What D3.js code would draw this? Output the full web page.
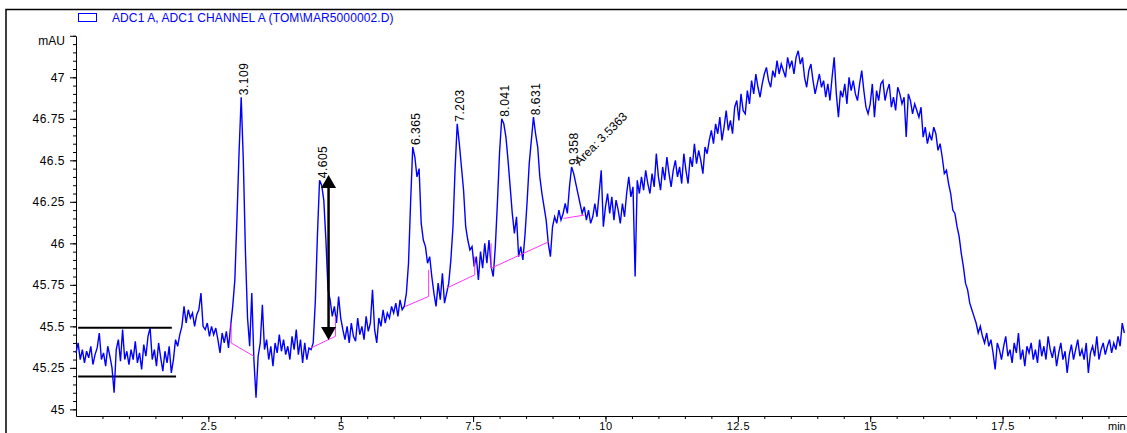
<!DOCTYPE html>
<html>
<head>
<meta charset="utf-8">
<script src="https://cdn.jsdelivr.net/npm/d3@7"></script>
<style>
	body { margin: 0; background: #fff; }
	svg { display: block; font-family: "Liberation Sans", Arial, sans-serif; }
</style>
</head>
<body>
<div id="chart"></div>
<script>
(function () {
	"use strict";

	// trace sampling, minutes
	var step = 0.04;

	// ADC1 A signal in mAU, one row per minute (25 samples each)
	var signal = [
		[45.34, 45.40, 45.30, 45.36, 45.28, 45.35, 45.31, 45.38, 45.27, 45.33, 45.37, 45.46, 45.30, 45.34, 45.26, 45.38, 45.32, 45.25, 45.10, 45.36, 45.42, 45.29, 45.48, 45.30, 45.35],
		[45.27, 45.36, 45.30, 45.41, 45.28, 45.34, 45.24, 45.39, 45.32, 45.44, 45.49, 45.30, 45.36, 45.26, 45.40, 45.31, 45.23, 45.35, 45.28, 45.38, 45.22, 45.30, 45.42, 45.38, 45.45],
		[45.50, 45.62, 45.52, 45.60, 45.55, 45.58, 45.50, 45.57, 45.60, 45.70, 45.50, 45.48, 45.52, 45.44, 45.50, 45.45, 45.49, 45.42, 45.34, 45.46, 45.40, 45.47, 45.37, 45.50, 45.62],
		[45.78, 46.15, 46.55, 46.88, 46.50, 45.95, 45.55, 45.38, 45.70, 45.30, 45.07, 45.32, 45.40, 45.63, 45.36, 45.42, 45.30, 45.38, 45.26, 45.40, 45.34, 45.45, 45.35, 45.42, 45.33],
		[45.38, 45.30, 45.44, 45.36, 45.48, 45.33, 45.42, 45.28, 45.40, 45.30, 45.37, 45.36, 45.40, 45.65, 46.05, 46.38, 46.35, 46.26, 46.02, 45.72, 45.66, 45.56, 45.62, 45.52, 45.68],
		[45.55, 45.48, 45.42, 45.50, 45.40, 45.52, 45.44, 45.41, 45.55, 45.45, 45.50, 45.42, 45.56, 45.47, 45.52, 45.72, 45.48, 45.40, 45.55, 45.50, 45.60, 45.52, 45.58, 45.55, 45.62],
		[45.58, 45.64, 45.56, 45.66, 45.60, 45.62, 45.70, 45.88, 46.25, 46.58, 46.52, 46.40, 46.45, 46.12, 46.02, 45.98, 45.88, 45.92, 45.80, 45.70, 45.62, 45.76, 45.66, 45.82, 45.64],
		[45.70, 45.76, 45.90, 46.10, 46.45, 46.72, 46.60, 46.46, 46.32, 46.10, 46.02, 45.96, 45.98, 45.86, 45.92, 45.78, 45.95, 45.85, 46.00, 45.88, 46.02, 45.86, 45.80, 45.98, 46.25],
		[46.55, 46.75, 46.72, 46.64, 46.50, 46.34, 46.18, 46.06, 46.16, 45.92, 45.98, 45.90, 46.05, 46.25, 46.48, 46.62, 46.76, 46.66, 46.58, 46.40, 46.30, 46.22, 46.14, 46.00, 45.92],
		[46.10, 46.16, 46.12, 46.20, 46.14, 46.18, 46.24, 46.18, 46.34, 46.46, 46.42, 46.36, 46.30, 46.24, 46.18, 46.22, 46.14, 46.20, 46.12, 46.16, 46.24, 46.16, 46.30, 46.44, 46.10],
		[46.22, 46.30, 46.18, 46.28, 46.14, 46.26, 46.20, 46.12, 46.24, 46.16, 46.30, 46.40, 46.28, 46.34, 45.80, 46.38, 46.30, 46.40, 46.32, 46.44, 46.36, 46.30, 46.42, 46.34, 46.54],
		[46.40, 46.32, 46.46, 46.38, 46.52, 46.42, 46.34, 46.44, 46.50, 46.40, 46.46, 46.36, 46.54, 46.44, 46.36, 46.52, 46.46, 46.60, 46.48, 46.56, 46.50, 46.42, 46.58, 46.54, 46.62],
		[46.68, 46.60, 46.72, 46.66, 46.76, 46.62, 46.70, 46.80, 46.68, 46.74, 46.66, 46.82, 46.86, 46.74, 46.90, 46.80, 46.78, 46.92, 46.84, 46.98, 46.90, 47.02, 46.94, 46.88, 46.96],
		[47.02, 47.06, 46.98, 46.94, 47.04, 47.00, 47.10, 47.02, 47.08, 47.04, 47.00, 47.12, 47.06, 47.10, 47.02, 47.12, 47.16, 47.08, 47.12, 47.00, 46.94, 47.04, 47.08, 46.98, 46.90],
		[46.96, 47.02, 46.94, 46.98, 46.88, 46.96, 46.86, 47.00, 47.12, 46.90, 46.76, 46.92, 46.88, 46.96, 46.84, 47.00, 46.92, 46.98, 46.90, 46.86, 46.96, 47.04, 46.92, 46.82, 46.78],
		[46.84, 46.96, 46.76, 46.92, 46.86, 46.96, 46.98, 46.86, 46.92, 46.96, 46.82, 46.88, 46.80, 46.94, 46.90, 46.84, 46.88, 46.64, 46.90, 46.86, 46.78, 46.84, 46.80, 46.76, 46.82],
		[46.64, 46.70, 46.60, 46.66, 46.62, 46.70, 46.66, 46.56, 46.60, 46.52, 46.42, 46.44, 46.36, 46.30, 46.20, 46.18, 46.10, 46.04, 45.94, 45.86, 45.76, 45.72, 45.64, 45.60, 45.56],
		[45.52, 45.46, 45.50, 45.44, 45.40, 45.46, 45.38, 45.42, 45.34, 45.24, 45.40, 45.36, 45.30, 45.38, 45.44, 45.32, 45.36, 45.28, 45.40, 45.34, 45.46, 45.30, 45.36, 45.26, 45.38],
		[45.34, 45.40, 45.30, 45.36, 45.28, 45.42, 45.32, 45.38, 45.30, 45.44, 45.36, 45.31, 45.38, 45.26, 45.34, 45.40, 45.30, 45.35, 45.22, 45.33, 45.39, 45.30, 45.36, 45.42, 45.32],
		[45.36, 45.30, 45.40, 45.22, 45.34, 45.38, 45.32, 45.44, 45.30, 45.36, 45.40, 45.33, 45.38, 45.42, 45.34, 45.40, 45.36, 45.44, 45.38, 45.52, 45.46]
	];

	var xMajorTicks = [2.5, 5, 7.5, 10, 12.5, 15, 17.5];
	var xMinorTicks = d3.range(0.5, 19.9, 0.5);
	var yMajorTicks = [45, 45.25, 45.5, 45.75, 46, 46.25, 46.5, 46.75, 47, 47.25];
	var yMinorTicks = d3.range(45, 47.26, 0.05);

	var legendText = 'ADC1 A, ADC1 CHANNEL A (TOM\\MAR5000002.D)';

	// retention times of the labelled peaks
	var peaks = [3.109, 4.605, 6.365, 7.203, 8.041, 8.631, 9.358];
	var areaText = 'Area: 3.5363';

	// integration baselines, [minutes, mAU] points
	var baselines = [
		[[2.93, 45.52], [2.93, 45.40], [3.36, 45.32]],
		[[4.44, 45.37], [4.90, 45.44], [4.90, 45.56]],
		[[6.22, 45.62], [6.66, 45.68], [6.66, 45.84]],
		[[7.00, 45.73], [7.53, 45.81], [7.53, 45.92]],
		[[7.84, 46.00], [7.84, 45.85], [8.93, 46.01]],
		[[9.21, 46.15], [9.60, 46.17]]
	];

	// noise band, [from, to, level]
	var noiseBand = [[0.04, 1.81, 45.492], [0.04, 1.89, 45.198]];

	// peak height measurement, [minutes, low, high]
	var heightArrow = [4.77, 45.418, 46.412];

	var width = 1127, height = 433;
	var fontSize = '12px';

	var points = [];
	signal.forEach(function (row, m) {
		row.forEach(function (v, k) {
			points.push([m + k * step, v]);
		});
	});

	var x = d3.scaleLinear().domain([0, 19.85]).range([76, 1127]);
	var y = d3.scaleLinear().domain([44.96, 47.25]).range([416, 35.8]);

	var svg = d3.select('#chart')
		.append('svg')
		.attr('width', width)
		.attr('height', height);

	// outer frame
	svg.append('path')
		.attr('d', 'M6,433V9.5H1127')
		.attr('fill', 'none')
		.attr('stroke', '#000')
		.attr('stroke-width', 1.5);

	// legend
	svg.append('rect')
		.attr('x', 78.5).attr('y', 13.5)
		.attr('width', 18).attr('height', 8)
		.attr('fill', 'none')
		.attr('stroke', '#0000ff');
	svg.append('text')
		.attr('x', 112).attr('y', 21.5)
		.attr('fill', '#0000ff')
		.style('font-size', fontSize)
		.style('letter-spacing', '0.1px')
		.text(legendText);

	// axes
	var xAxisY = y.range()[0];
	svg.append('g')
		.attr('transform', 'translate(0,' + xAxisY + ')')
		.call(d3.axisBottom(x).tickValues(xMinorTicks).tickSize(3).tickSizeOuter(0).tickFormat(''));
	var xAxis = svg.append('g')
		.attr('transform', 'translate(0,' + xAxisY + ')')
		.call(d3.axisBottom(x).tickValues(xMajorTicks).tickSize(6).tickSizeOuter(0).tickPadding(0)
			.tickFormat(function (d) { return String(d); }))
		.call(function (g) { g.select('.domain').remove(); });

	svg.append('g')
		.attr('transform', 'translate(76,0)')
		.call(d3.axisLeft(y).tickValues(yMinorTicks).tickSize(3).tickSizeOuter(0).tickFormat(''));
	var yAxis = svg.append('g')
		.attr('transform', 'translate(76,0)')
		.call(d3.axisLeft(y).tickValues(yMajorTicks).tickSize(6).tickSizeOuter(0).tickPadding(5)
			.tickFormat(function (d) { return d === 47.25 ? 'mAU' : String(d); }))
		.call(function (g) { g.select('.domain').remove(); });

	svg.selectAll('.tick text')
		.attr('fill', '#000')
		.style('font-family', '"Liberation Sans", Arial, sans-serif')
		.style('font-size', fontSize)
		.style('letter-spacing', '0.5px');
	xAxis.selectAll('.tick text')
		.style('font-size', '11px');
	yAxis.selectAll('.tick text')
		.filter(function (d) { return d === 47.25; })
		.attr('dy', '0.75em')
		.style('letter-spacing', '0px');
	svg.selectAll('.domain, .tick line').attr('stroke', '#000');

	svg.append('text')
		.attr('x', 1108).attr('y', xAxisY + 6)
		.attr('dy', '0.71em')
		.style('font-size', '11px')
		.text('min');

	// noise band lines
	svg.selectAll('.noise')
		.data(noiseBand)
		.enter()
		.append('line')
		.attr('x1', function (d) { return x(d[0]); })
		.attr('x2', function (d) { return x(d[1]); })
		.attr('y1', function (d) { return y(d[2]); })
		.attr('y2', function (d) { return y(d[2]); })
		.attr('stroke', '#000')
		.attr('stroke-width', 2);

	// trace
	var line = d3.line()
		.x(function (d) { return x(d[0]); })
		.y(function (d) { return y(d[1]); });

	svg.append('path')
		.datum(points)
		.attr('d', line)
		.attr('fill', 'none')
		.attr('stroke', '#0000ff')
		.attr('stroke-width', 1.4);

	// integration baselines
	svg.selectAll('.baseline')
		.data(baselines)
		.enter()
		.append('path')
		.attr('d', line)
		.attr('fill', 'none')
		.attr('stroke', '#ff33ff')
		.attr('stroke-width', 1);

	// height arrow
	var ax = x(heightArrow[0]), ay0 = y(heightArrow[1]), ay1 = y(heightArrow[2]);
	svg.append('line')
		.attr('x1', ax).attr('x2', ax)
		.attr('y1', ay0 - 10).attr('y2', ay1 + 10)
		.attr('stroke', '#000')
		.attr('stroke-width', 2.5);
	svg.append('path')
		.attr('d', 'M' + ax + ',' + ay1 + 'l-7.5,13h15z' + 'M' + ax + ',' + ay0 + 'l-7.5,-13h15z')
		.attr('fill', '#000');

	// peak labels
	function apex(rt) {
		return d3.max(points, function (p) {
			return Math.abs(p[0] - rt) <= 0.05 ? p[1] : null;
		});
	}

	svg.selectAll('.peak-label')
		.data(peaks)
		.enter()
		.append('text')
		.attr('transform', function (rt) {
			return 'translate(' + (x(rt) + 7) + ',' + (y(apex(rt)) - 2) + ') rotate(-90)';
		})
		.style('font-size', fontSize)
		.style('letter-spacing', '0.5px')
		.text(function (rt) { return rt.toFixed(3); });

	var lastPeak = peaks[peaks.length - 1];
	svg.append('text')
		.attr('transform', 'translate(' + (x(lastPeak) + 8) + ',' + (y(apex(lastPeak)) - 1) + ') rotate(-45)')
		.style('font-size', fontSize)
		.text(areaText);
}());
</script>
</body>
</html>
